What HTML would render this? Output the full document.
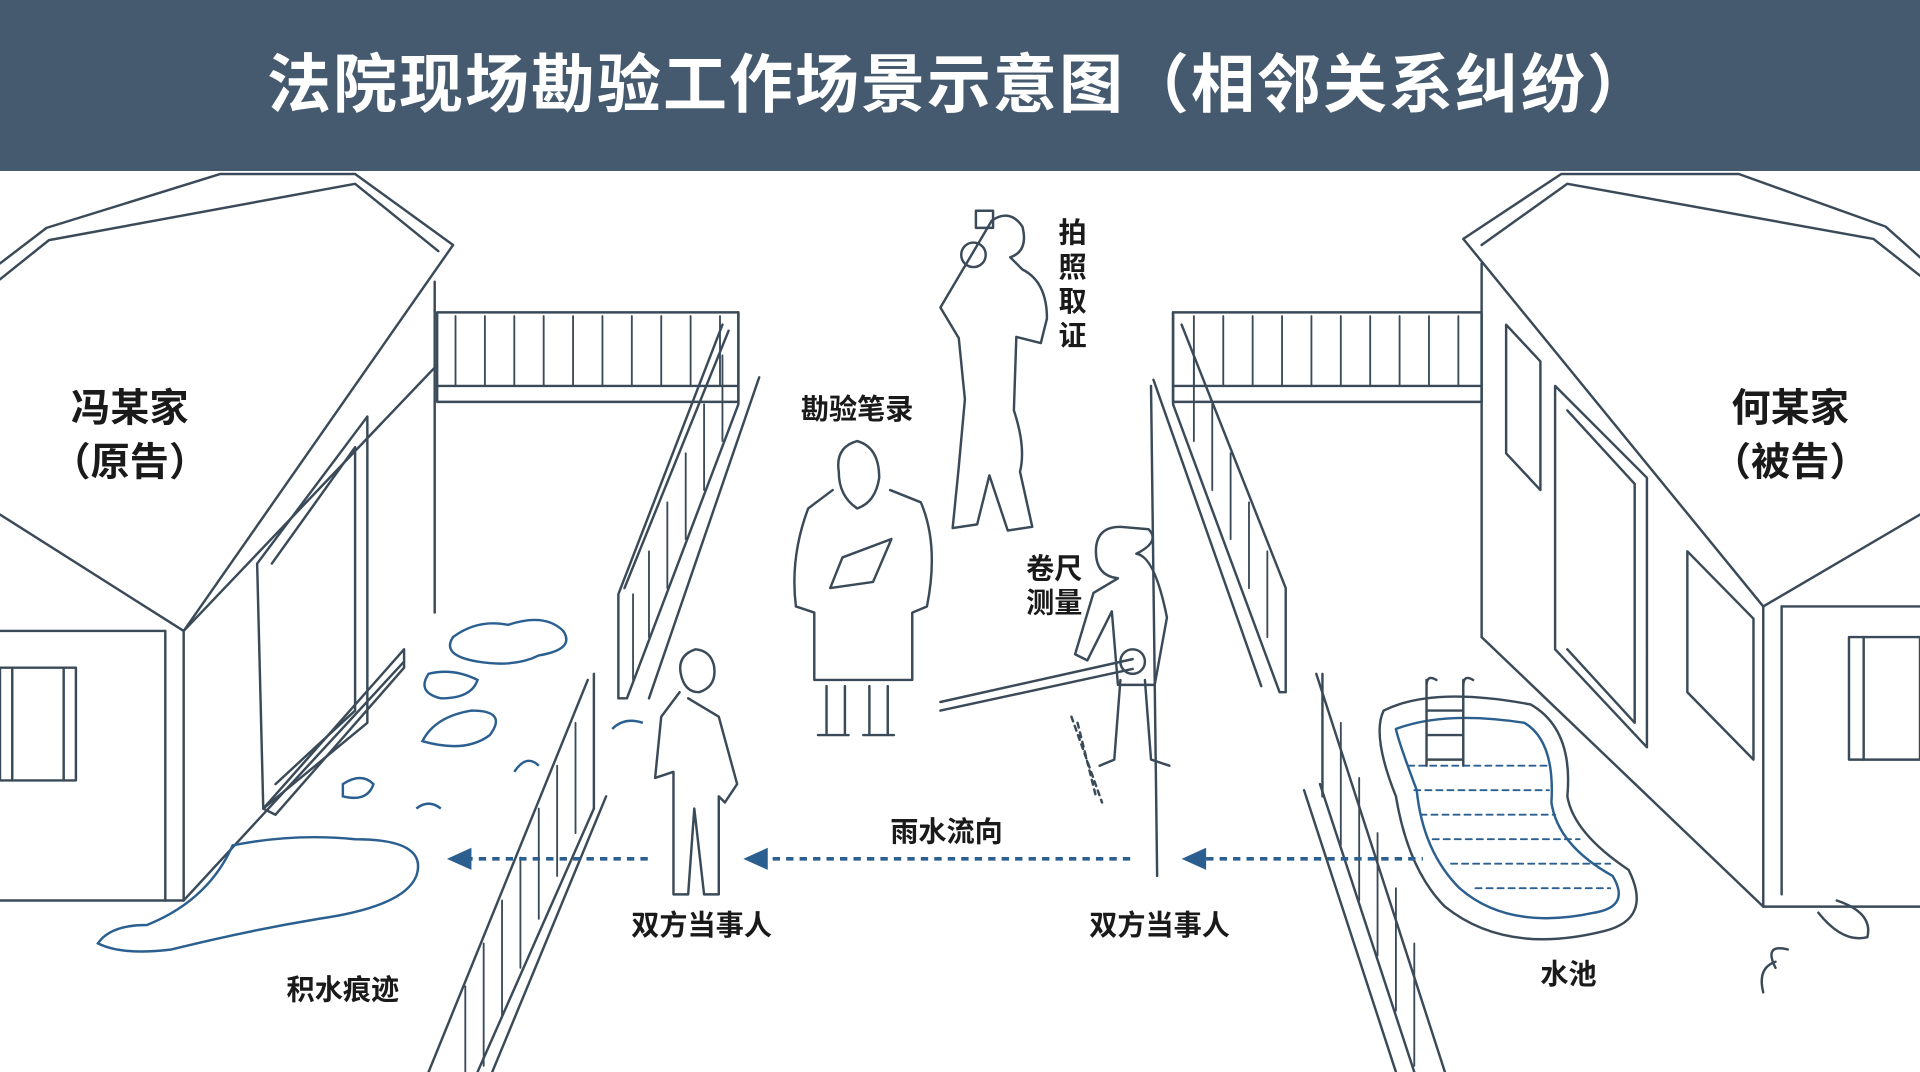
<!DOCTYPE html>
<html><head><meta charset="utf-8"><style>
html,body{margin:0;padding:0;background:#fff;}
body{width:1920px;height:1072px;overflow:hidden;position:relative;font-family:"Liberation Sans","Noto Sans CJK SC",sans-serif;}
#hd{position:absolute;left:0;top:0;width:1920px;height:171px;background:#455a6e;color:#fff;font-size:64px;text-align:center;line-height:171px;font-weight:bold;letter-spacing:2px;}
svg{position:absolute;left:0;top:0;}
svg text{font-family:"Liberation Sans","Noto Sans CJK SC",sans-serif;fill:#1a1a1a;font-weight:bold;}
</style></head><body>
<div id="hd">法院现场勘验工作场景示意图（相邻关系纠纷）</div>
<svg width="1920" height="1072" viewBox="0 0 1568 875" preserveAspectRatio="none">
<g fill="none" stroke="#3a4a58" stroke-width="2" stroke-linejoin="round" stroke-linecap="round">
<!-- left house -->
<polyline points="0,215 38,186 180,142 290,142 370,200 150,515 0,420"/>
<polyline points="0,228 40,196 290,150 358,205"/>
<line x1="150" y1="515" x2="150" y2="735"/>
<line x1="135" y1="515" x2="135" y2="735"/>
<line x1="0" y1="515" x2="135" y2="515"/>
<line x1="0" y1="735" x2="150" y2="735"/>
<line x1="150" y1="735" x2="330" y2="540"/>
<line x1="355" y1="230" x2="355" y2="500"/>
<line x1="150" y1="515" x2="355" y2="300"/>
<polygon points="210,460 300,340 300,590 215,660"/>
<polyline points="222,460 290,365 290,580 225,640"/>
<polygon points="215,660 330,530 330,545 225,665"/>
<rect x="0" y="545" width="62" height="92"/><line x1="10" y1="545" x2="10" y2="637"/><line x1="52" y1="545" x2="52" y2="637"/>
<!-- left fences -->
<rect x="357" y="255" width="246" height="73"/><line x1="357" y1="315" x2="603" y2="315"/>
<g stroke-width="1.5">
<line x1="372" y1="258" x2="372" y2="315"/><line x1="396" y1="258" x2="396" y2="315"/><line x1="420" y1="258" x2="420" y2="315"/><line x1="444" y1="258" x2="444" y2="315"/><line x1="468" y1="258" x2="468" y2="315"/><line x1="492" y1="258" x2="492" y2="315"/><line x1="516" y1="258" x2="516" y2="315"/><line x1="540" y1="258" x2="540" y2="315"/><line x1="564" y1="258" x2="564" y2="315"/><line x1="588" y1="258" x2="588" y2="315"/>
</g>
<polyline points="603,255 603,330 512,570 505,570 505,485 590,265"/>
<line x1="510" y1="480" x2="595" y2="270"/>
<line x1="620" y1="308" x2="530" y2="570"/>
<line x1="485" y1="550" x2="485" y2="660"/>
<polyline points="480,555 350,875"/>
<polyline points="485,660 390,875"/>
<polyline points="495,650 402,875"/>
<g stroke-width="1.5">
<line x1="470" y1="590" x2="470" y2="680"/><line x1="455" y1="625" x2="455" y2="715"/><line x1="440" y1="660" x2="440" y2="750"/><line x1="425" y1="700" x2="425" y2="790"/><line x1="410" y1="735" x2="410" y2="830"/><line x1="395" y1="770" x2="395" y2="870"/><line x1="380" y1="805" x2="380" y2="875"/>
<line x1="590" y1="290" x2="590" y2="360"/><line x1="575" y1="330" x2="575" y2="400"/><line x1="560" y1="370" x2="560" y2="440"/><line x1="545" y1="410" x2="545" y2="480"/><line x1="530" y1="450" x2="530" y2="520"/><line x1="517" y1="485" x2="517" y2="555"/>
</g>
<!-- right house -->
<polyline points="1568,210 1540,185 1420,142 1275,142 1195,195 1440,495 1568,420"/>
<polyline points="1568,225 1530,195 1280,150 1210,200"/>
<line x1="1440" y1="495" x2="1440" y2="740"/>
<line x1="1455" y1="495" x2="1455" y2="730"/>
<line x1="1455" y1="495" x2="1568" y2="495"/>
<line x1="1440" y1="740" x2="1568" y2="740"/>
<line x1="1210" y1="215" x2="1210" y2="520"/>
<line x1="1210" y1="520" x2="1440" y2="740"/>
<polygon points="1230,265 1258,295 1258,400 1230,370"/>
<polygon points="1270,315 1345,390 1345,610 1270,530"/>
<polyline points="1280,335 1335,395 1335,590 1280,530"/>
<polygon points="1378,450 1432,505 1432,620 1378,565"/>
<rect x="1510" y="520" width="58" height="100"/><line x1="1522" y1="520" x2="1522" y2="620"/>
<path d="M1500,735 q30,10 25,30 q-20,5 -40,-20 M1450,790 q-10,-20 10,-15 M1440,810 q-5,-20 10,-25"/>
<!-- right fences -->
<rect x="958" y="255" width="252" height="73"/><line x1="958" y1="315" x2="1210" y2="315"/>
<g stroke-width="1.5">
<line x1="975" y1="258" x2="975" y2="315"/><line x1="999" y1="258" x2="999" y2="315"/><line x1="1023" y1="258" x2="1023" y2="315"/><line x1="1047" y1="258" x2="1047" y2="315"/><line x1="1071" y1="258" x2="1071" y2="315"/><line x1="1095" y1="258" x2="1095" y2="315"/><line x1="1119" y1="258" x2="1119" y2="315"/><line x1="1143" y1="258" x2="1143" y2="315"/><line x1="1167" y1="258" x2="1167" y2="315"/><line x1="1191" y1="258" x2="1191" y2="315"/>
</g>
<polyline points="958,255 958,330 1045,565 1050,565 1050,480 965,265"/>
<line x1="942" y1="310" x2="1030" y2="560"/>
<line x1="940" y1="315" x2="945" y2="715"/>
<line x1="1075" y1="550" x2="1180" y2="875"/>
<line x1="1080" y1="550" x2="1080" y2="650"/>
<line x1="1065" y1="645" x2="1140" y2="875"/>
<line x1="1078" y1="640" x2="1155" y2="875"/>
<g stroke-width="1.5">
<line x1="1095" y1="590" x2="1095" y2="690"/><line x1="1110" y1="635" x2="1110" y2="735"/><line x1="1125" y1="680" x2="1125" y2="780"/><line x1="1140" y1="725" x2="1140" y2="825"/><line x1="1155" y1="770" x2="1155" y2="870"/>
<line x1="975" y1="290" x2="975" y2="360"/><line x1="990" y1="330" x2="990" y2="400"/><line x1="1005" y1="370" x2="1005" y2="440"/><line x1="1020" y1="410" x2="1020" y2="480"/><line x1="1035" y1="450" x2="1035" y2="520"/>
</g>
<!-- pool -->
<path d="M1130,580 q40,-20 120,-5 q35,20 30,75 q5,30 50,60 q20,40 -20,50 q-80,20 -130,-20 q-30,-30 -40,-90 q-20,-50 -10,-70z"/>
<path d="M1140,595 q40,-15 105,-5 q25,15 22,65 q5,35 50,60 q15,25 -15,30 q-70,15 -110,-20 q-30,-30 -35,-80 q-15,-40 -17,-50z" stroke="#2a5f8f"/>
<g stroke="#2a5f8f" stroke-width="1.5" stroke-dasharray="5 4"><line x1="1150" y1="625" x2="1265" y2="625"/><line x1="1155" y1="645" x2="1265" y2="645"/><line x1="1160" y1="665" x2="1270" y2="665"/><line x1="1170" y1="685" x2="1290" y2="685"/><line x1="1185" y1="705" x2="1315" y2="705"/><line x1="1205" y1="725" x2="1315" y2="725"/></g>
<path d="M1165,555 v70 M1195,555 v70 M1165,560 q0,-10 8,-5 M1195,560 q0,-10 8,-5 M1165,580 h30 M1165,600 h30 M1165,620 h30"/>
<!-- photographer -->
<path d="M810,180 q15,-10 25,5 q5,20 -10,25 l10,10 q20,10 20,40 l-5,20 -20,-5 -2,60 q10,30 5,50 l10,45 -20,3 -15,-45 -10,40 -20,3 5,-50 5,-55 -5,-50 -15,-25 z"/>
<circle cx="795" cy="208" r="10"/><rect x="797" y="172" width="14" height="14"/>
<!-- officer -->
<path d="M700,360 q-18,5 -15,25 q0,20 15,30 q15,-5 18,-25 q0,-25 -18,-30z"/>
<path d="M680,400 l-20,15 q-15,40 -10,80 l15,5 v55 h80 v-55 l12,-5 q10,-50 -5,-85 l-25,-10 M675,560 v40 h15 v-40 M710,560 v40 h15 v-40 M668,600 h25 M705,600 h25"/>
<path d="M688,455 l40,-15 l-15,35 l-35,5z"/>
<!-- woman -->
<path d="M915,430 q-20,0 -20,20 q0,20 18,22 l-20,12 -15,50 10,5 20,-40 5,60 h30 l10,-55 q-10,-50 -25,-52 q20,-10 10,-20z M915,555 l-5,65 -12,5 M935,555 l5,65 15,5"/>
<circle cx="925" cy="540" r="10"/>
<line x1="768" y1="573" x2="925" y2="538"/><line x1="768" y1="580" x2="925" y2="546"/>
<path d="M875,585 l25,70 M880,590 l15,60" stroke-dasharray="4 4"/>
<!-- man -->
<path d="M568,530 q-15,5 -12,20 q3,15 15,15 q15,-5 12,-22 q-3,-12 -15,-13z M555,565 l-15,20 -5,50 15,-5 0,25 0,75 h12 l5,-70 8,70 h12 l0,-80 5,5 10,-15 -15,-55 -25,-15"/>
</g>
<!-- water -->
<g fill="none" stroke="#2a5f8f" stroke-width="2">
<path d="M370,520 q20,-15 45,-10 q30,-10 45,5 q10,15 -20,20 q-20,10 -50,5 q-30,-5 -20,-20z"/>
<path d="M350,550 q20,-5 40,5 q-5,15 -30,15 q-20,-5 -10,-20z"/>
<path d="M345,605 q10,-20 40,-25 q30,0 15,20 q-20,15 -55,5z"/>
<path d="M190,690 q50,-10 100,-5 q60,0 50,30 q-10,25 -80,35 q-60,10 -120,25 q-40,5 -60,-5 q10,-15 40,-15 q50,-20 70,-65z"/>
<path d="M280,640 q15,-10 25,0 q-5,15 -25,10z M340,660 q10,-8 20,0 M420,630 q10,-15 20,-5 M500,595 q10,-10 25,-5"/>
</g>
<g fill="#2a5f8f"><g stroke="#2a5f8f" stroke-width="3" stroke-dasharray="6 5">
<line x1="380" y1="701" x2="530" y2="701"/><line x1="620" y1="701" x2="925" y2="701"/><line x1="985" y1="701" x2="1162" y2="701"/></g>
<polygon points="365,701 385,692 385,710"/><polygon points="607,701 627,692 627,710"/><polygon points="965,701 985,692 985,710"/>
</g>
<text x="106" y="344" font-size="32" text-anchor="middle">冯某家</text>
<text x="106" y="388" font-size="32" text-anchor="middle">（原告）</text>
<text x="1462" y="344" font-size="32" text-anchor="middle">何某家</text>
<text x="1462" y="388" font-size="32" text-anchor="middle">（被告）</text>
<text x="700" y="342" font-size="23" text-anchor="middle">勘验笔录</text>
<text x="876" y="198" font-size="23" text-anchor="middle">拍</text>
<text x="876" y="226" font-size="23" text-anchor="middle">照</text>
<text x="876" y="254" font-size="23" text-anchor="middle">取</text>
<text x="876" y="282" font-size="23" text-anchor="middle">证</text>
<text x="861" y="472" font-size="23" text-anchor="middle">卷尺</text>
<text x="861" y="500" font-size="23" text-anchor="middle">测量</text>
<text x="773" y="687" font-size="23" text-anchor="middle">雨水流向</text>
<text x="573" y="763" font-size="23" text-anchor="middle">双方当事人</text>
<text x="947" y="763" font-size="23" text-anchor="middle">双方当事人</text>
<text x="280" y="816" font-size="23" text-anchor="middle">积水痕迹</text>
<text x="1281" y="803" font-size="23" text-anchor="middle">水池</text>
</svg>
</body></html>
